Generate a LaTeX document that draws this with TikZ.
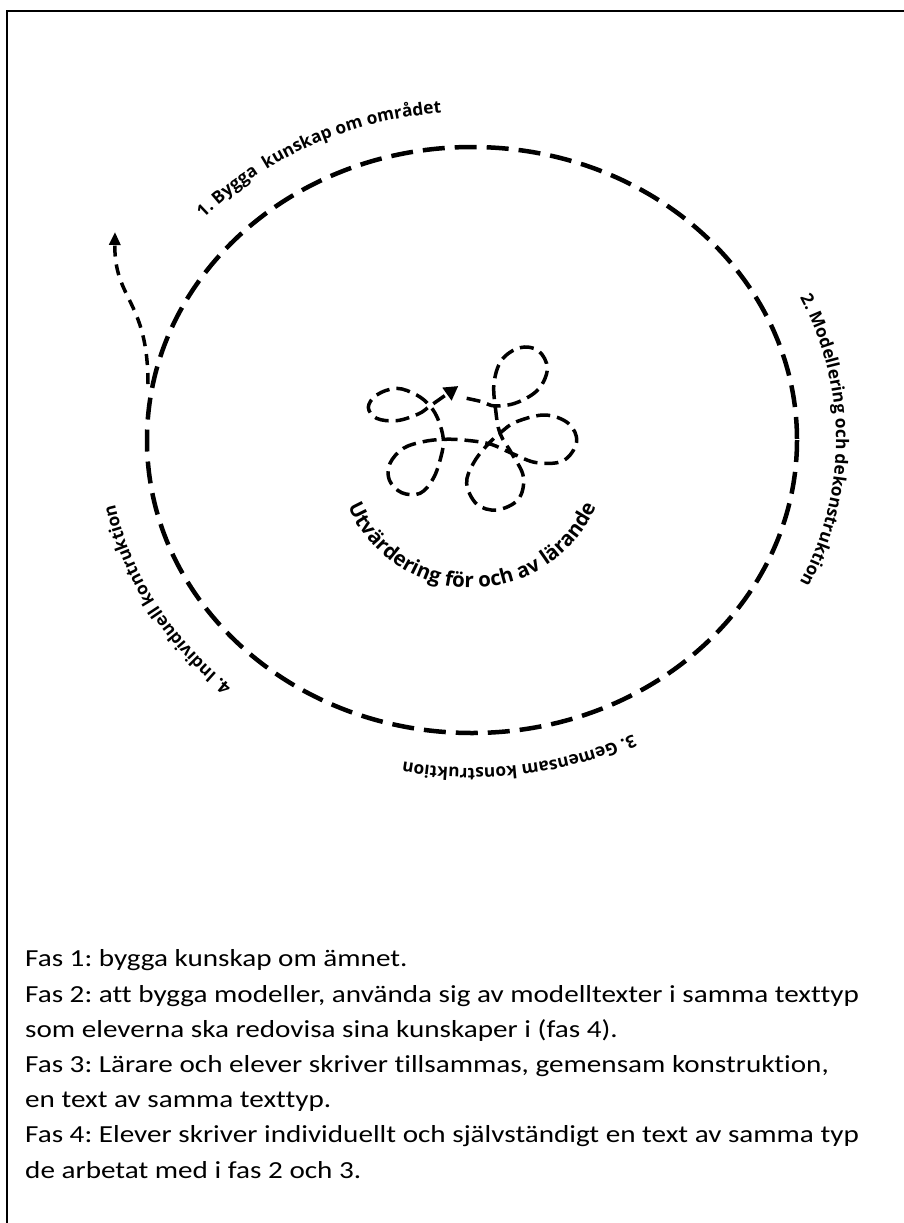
\documentclass[tikz,border=0pt]{standalone}
\usepackage{fontspec}
\setmainfont{Carlito}[FakeStretch=1.19, Ligatures=NoCommon]
\newfontfamily\labfamily{Open Sans}
\newcommand\mylab{\labfamily\bfseries\fontsize{17.3}{19}\selectfont}
\newcommand\mymid{\labfamily\bfseries\fontsize{20.5}{23}\selectfont}
\usetikzlibrary{decorations.text,arrows.meta}
\begin{document}
\begin{tikzpicture}[x=1pt,y=-1pt,
  frameline/.style={line width=2pt},
  cycleline/.style={line width=4.5pt, dash pattern=on 22pt off 10pt},
  doodle/.style={line width=3.5pt, dash pattern=on 14pt off 7pt, -{Triangle[length=14pt,width=15pt]}},
  leftarr/.style={line width=3.5pt, dash pattern=on 11pt off 8pt, -{Triangle[length=13pt,width=11pt]}},
  notes/.style={anchor=base west, align=left, inner sep=0pt, font=\frenchspacing\fontsize{24.5}{35.2}\selectfont}
]
\useasboundingbox (0,0) rectangle (904,1223);
\fill[white] (0,0) rectangle (904,1223);
% frame
\coordinate (fbl) at (7,1223);
\coordinate (ftl) at (7,11);
\coordinate (ftr) at (904,11);
\draw[frameline] (fbl) -- (ftl) -- (ftr);
% cycle
\coordinate (c) at (472,440);
\draw[cycleline] (c) ellipse [x radius=325, y radius=293];
% phase labels
\path[decorate, decoration={text along path, text align=center,
  text={|\mylab|1. Bygga{ } kunskap om området}}]
  ([shift={(198:364 and 328)}]c) arc[start angle=198, end angle=288, x radius=364, y radius=328];
\path[decorate, decoration={text along path, text align=center,
  text={|\mylab|2. Modellering och dekonstruktion}}]
  ([shift={(-45:364 and 328)}]c) arc[start angle=-45, end angle=45, x radius=364, y radius=328];
\path[decorate, decoration={text along path, text align=center,
  text={|\mylab|3. Gemensam konstruktion}}]
  ([shift={(37:364 and 328)}]c) arc[start angle=37, end angle=127, x radius=364, y radius=328];
\path[decorate, decoration={text along path, text align=center,
  text={|\mylab|4. Individuell kontruktion}}]
  ([shift={(106:364 and 328)}]c) arc[start angle=106, end angle=196, x radius=364, y radius=328];
% left exit arrow
\coordinate (la) at (148,384);
\coordinate (lb) at (115,232);
\draw[leftarr] (la) .. controls (148,300) and (114,300) .. (lb);
% central doodle
\begin{scope}[shift={(330,300)}, scale=1/3]
\draw[doodle] plot[smooth, tension=0.6] coordinates {
 (410,295) (455,305) (495,318) (560,308) (625,268) (652,205) (625,152) (570,143)
 (515,180) (492,250) (497,330) (510,400) (545,460) (580,530) (565,598) (500,630)
 (440,612) (410,550) (430,490) (470,437) (515,395) (560,365) (645,345) (715,370)
 (740,425) (700,482) (620,488) (550,462) (480,432) (400,420) (340,418) (280,425)
 (220,445) (180,490) (178,540) (215,578) (270,580) (310,535) (333,470) (340,418)
 (325,360) (300,318) (260,285) (200,265) (140,285) (115,322) (140,355) (200,362)
 (265,342) (300,318) (340,290) (385,258)};
\end{scope}
\coordinate (m) at (472,453);
\path[decorate, decoration={text along path, text align=center,
  text={|\mymid|Utvärdering för och av lärande}}]
  ([shift={(178:135)}]m) arc[start angle=178, end angle=2, radius=135];
% notes
\node[notes] (txt) at (25,1178) {Fas 1: bygga kunskap om ämnet.\\
Fas 2: att bygga modeller, använda sig av modelltexter i samma texttyp\\
som eleverna ska redovisa sina kunskaper i (fas 4).\\
Fas 3: Lärare och elever skriver tillsammas, gemensam konstruktion,\\
en text av samma texttyp.\\
Fas 4: Elever skriver individuellt och självständigt en text av samma typ\\
de arbetat med i fas 2 och 3.};
\end{tikzpicture}
\end{document}
